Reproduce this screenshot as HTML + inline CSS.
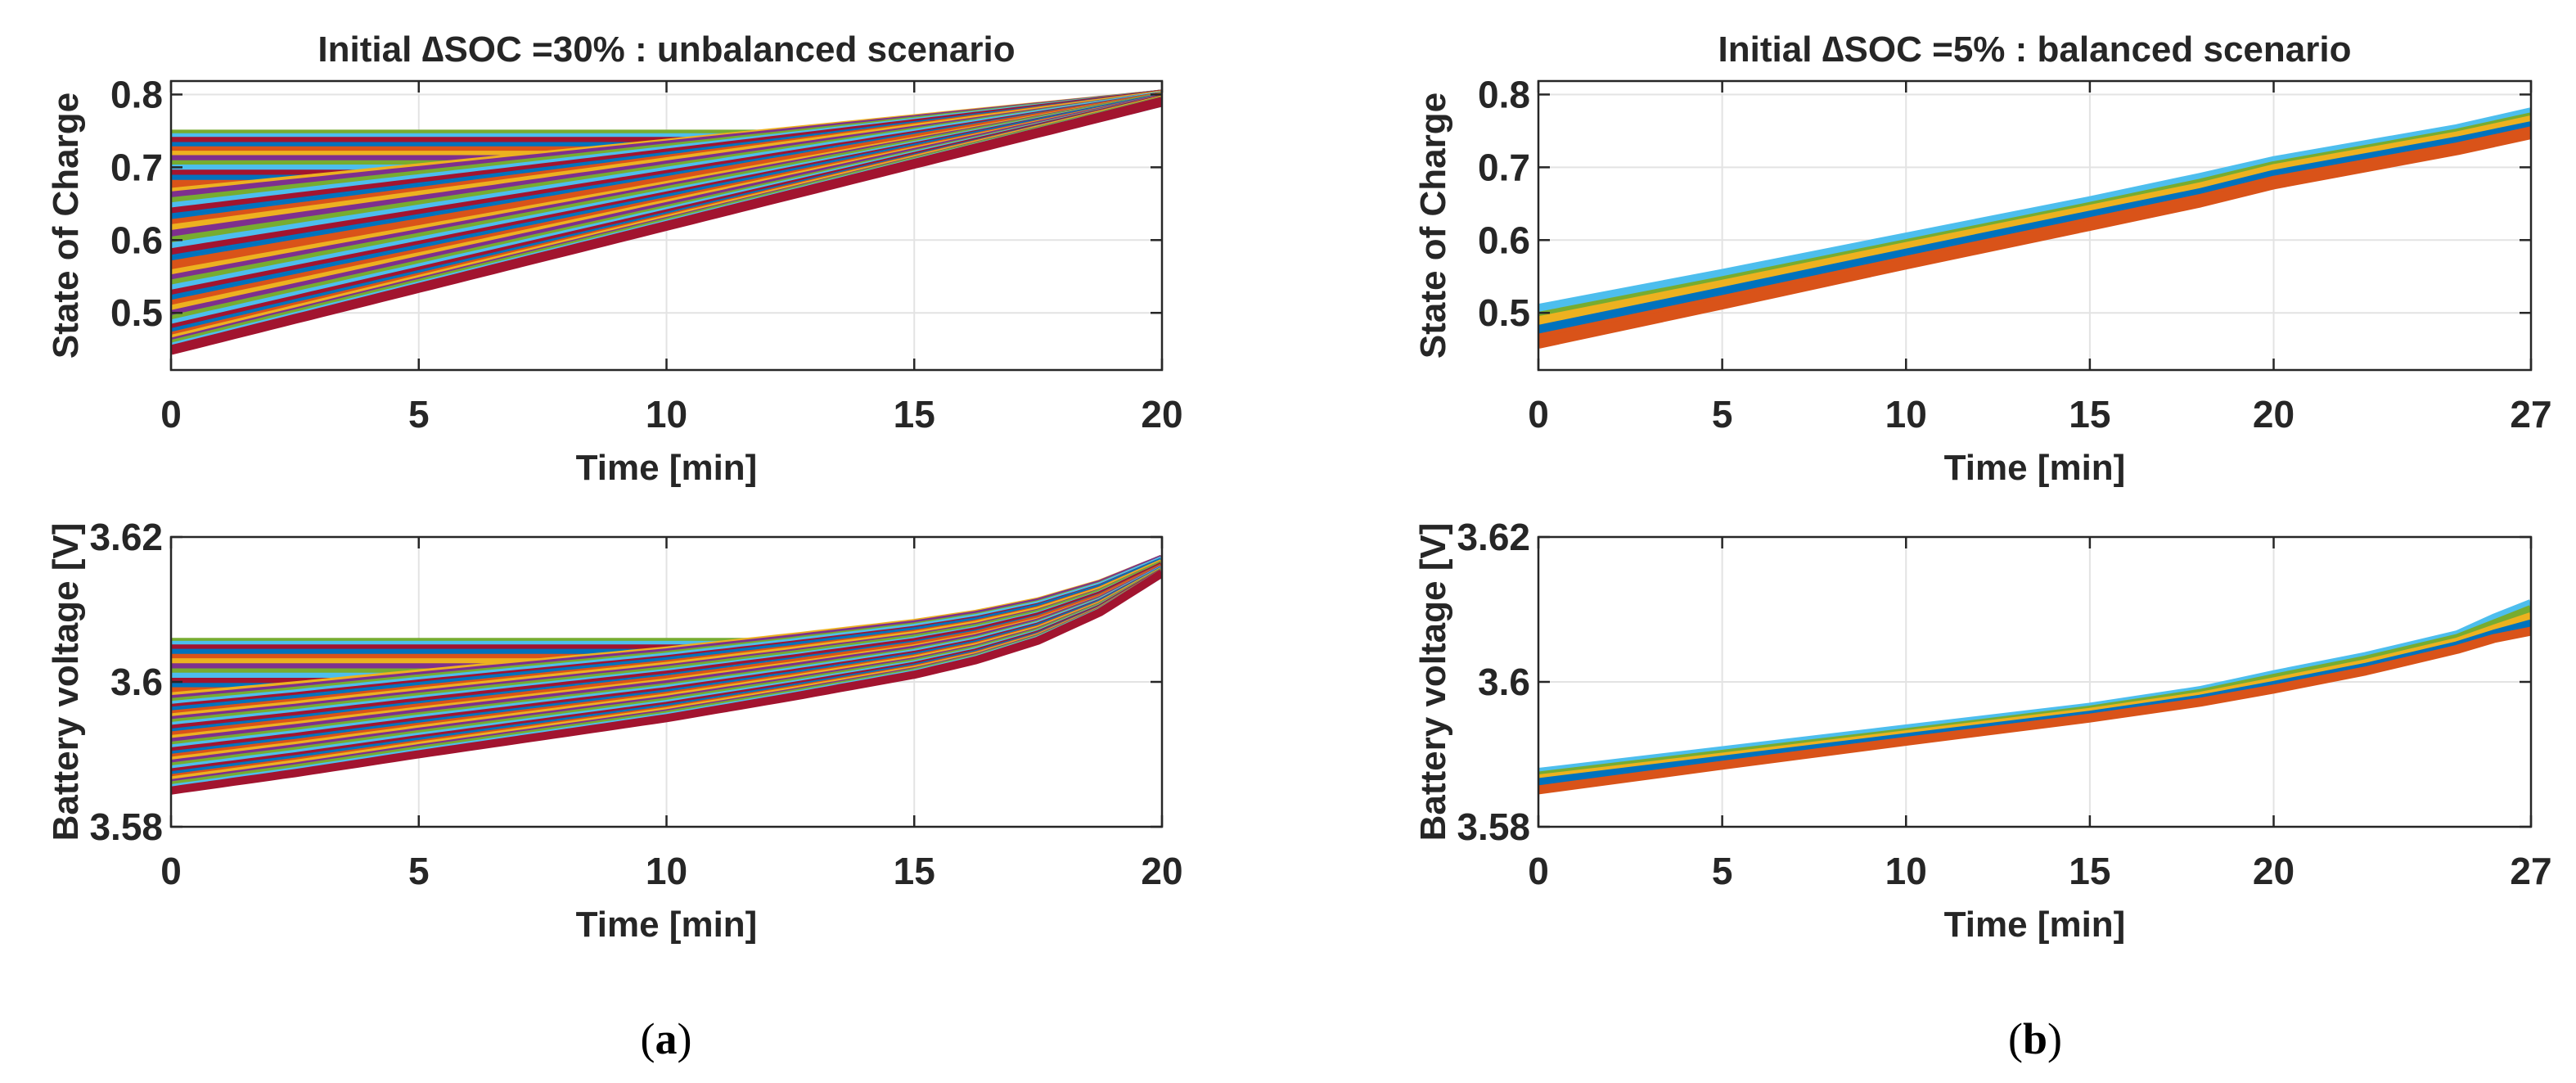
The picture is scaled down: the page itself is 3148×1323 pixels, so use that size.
<!DOCTYPE html>
<html><head><meta charset="utf-8"><style>
html,body{margin:0;padding:0;background:#fff;}
svg{display:block;}
text{font-family:"Liberation Sans",Arial,sans-serif;fill:#262626;}
</style></head><body>
<svg id="fig" width="3148" height="1323" viewBox="0 0 3148 1323">
<text x="814" y="1287" text-anchor="middle" style="font-family:'Liberation Serif',serif;font-size:54px;fill:#000">(<tspan font-weight="bold">a</tspan>)</text>
<text x="2487" y="1287" text-anchor="middle" style="font-family:'Liberation Serif',serif;font-size:54px;fill:#000">(<tspan font-weight="bold">b</tspan>)</text>
</svg>
<script>
const colors = ["#0072BD","#D95319","#EDB120","#7E2F8E","#77AC30","#4DBEEE","#A2142F"];
// Panel (a) SOC data
const aSocInit = [0.745,0.74,0.735,0.728,0.722,0.716,0.71,0.703,0.697,0.69,0.683,0.676,
 0.665,0.66,0.652,0.645,0.638,0.63,0.622,0.615,0.607,0.598,0.59,0.582,0.573,0.565,0.553,0.546,0.539,0.532,0.525,0.518,0.511,0.504,0.497,0.49,0.484,0.478,0.472,0.467,0.463,0.459,0.456,0.452,0.449];
const aSocEnd = [0.8,0.8,0.8,0.8,0.8,0.8,0.8,0.8,0.8,0.8,0.8,0.8,
 0.8,0.8,0.8,0.8,0.8,0.799,0.799,0.799,0.798,0.798,0.798,0.797,0.797,0.797,0.796,0.796,0.796,0.795,0.795,0.795,0.794,0.794,0.794,0.793,0.793,0.793,0.792,0.792,0.792,0.791,0.791,0.79,0.79];
const aFlatCount = 12;
const aEnvSoc = [0.64, 0.80];
// Panel (a) voltage data
const aVInit = [3.6055,3.6051,3.6046,3.6040,3.6033,3.6027,3.6020,3.6013,3.6007,3.6000,3.5993,3.5987,
 3.5980,3.5976,3.5972,3.5968,3.5964,3.5960,3.5955,3.5951,3.5947,3.5943,3.5939,3.5935,3.5930,3.5926,3.5921,3.5917,3.5912,3.5908,3.5904,3.5899,3.5895,3.5891,3.5887,3.5883,3.5879,3.5875,3.5871,3.5867,3.5864,3.5860,3.5857,3.5853,3.5850];
const aVEnd = [3.617,3.617,3.617,3.617,3.617,3.617,3.617,3.617,3.617,3.617,3.617,3.617,
 3.617,3.617,3.6168,3.6168,3.6166,3.6166,3.6164,3.6164,3.6162,3.6162,3.616,3.616,3.6158,3.6158,3.6156,3.6156,3.6155,3.6155,3.6154,3.6154,3.6153,3.6153,3.6152,3.6152,3.6151,3.6151,3.615,3.615,3.615,3.615,3.615,3.615,3.615];
const aEnvV = [3.5965, 3.617];
const aShapeT = [0,2.5,5,7.5,10,12.5,15,16.25,17.5,18.75,20];
const aShapeG = [0,0.08,0.167,0.25,0.333,0.43,0.533,0.6,0.69,0.82,1];
// Panel (b)
const bT = [0,5,10,15,18,20,25,27];
const bSoc = [
 [0.505,0.553,0.603,0.653,0.685,0.708,0.752,0.775],
 [0.500,0.548,0.599,0.649,0.681,0.704,0.749,0.772],
 [0.494,0.543,0.594,0.645,0.677,0.701,0.746,0.768],
 [0.488,0.538,0.590,0.641,0.672,0.697,0.742,0.764],
 [0.482,0.533,0.585,0.637,0.668,0.693,0.739,0.760],
 [0.476,0.528,0.581,0.633,0.664,0.689,0.735,0.756],
 [0.470,0.522,0.576,0.628,0.660,0.685,0.731,0.752],
 [0.464,0.517,0.571,0.624,0.656,0.681,0.727,0.749],
 [0.458,0.512,0.567,0.620,0.652,0.677,0.724,0.746]];
const bSocColors = ["#4DBEEE","#4DBEEE","#77AC30","#EDB120","#EDB120","#0072BD","#0072BD","#D95319","#D95319"];
const bVT = [0,5,10,15,18,20,22.5,25,26,27];
const bV = [
 [3.5875,3.5905,3.5935,3.5965,3.5988,3.6010,3.6035,3.6065,3.6088,3.6108],
 [3.5870,3.5900,3.5930,3.5961,3.5984,3.6005,3.6030,3.6060,3.6080,3.6100],
 [3.5866,3.5896,3.5927,3.5958,3.5980,3.6000,3.6025,3.6055,3.6073,3.6090],
 [3.5861,3.5892,3.5923,3.5954,3.5976,3.5995,3.6020,3.6050,3.6066,3.6080],
 [3.5856,3.5889,3.5920,3.5952,3.5974,3.5992,3.6017,3.6047,3.6062,3.6074],
 [3.5851,3.5885,3.5918,3.5950,3.5972,3.5990,3.6015,3.6045,3.6060,3.6070]];
const bVColors = ["#4DBEEE","#77AC30","#EDB120","#0072BD","#0072BD","#D95319"];

const NS="http://www.w3.org/2000/svg";
const svg=document.getElementById('fig');
function el(tag,attrs,parent){const e=document.createElementNS(NS,tag);for(const k in attrs)e.setAttribute(k,attrs[k]);(parent||svg).appendChild(e);return e;}

function makeAxes(o){
  const g=el('g',{});
  
  
  const sx=v=>o.x0+(v-o.xmin)/(o.xmax-o.xmin)*(o.x1-o.x0);
  const sy=v=>o.y1-(v-o.ymin)/(o.ymax-o.ymin)*(o.y1-o.y0);
  o.xticks.forEach(t=>{const l=el('line',{x1:sx(t),x2:sx(t),y1:o.y0,y2:o.y1,stroke:'#e3e3e3','stroke-width':2},g);
    
    });
  o.yticks.forEach(t=>{const l=el('line',{x1:o.x0,x2:o.x1,y1:sy(t),y2:sy(t),stroke:'#e3e3e3','stroke-width':2},g);
    
    });
  const clip=el('clipPath',{id:o.name+'-clip'},g);
  el('rect',{x:o.x0,y:o.y0,width:o.x1-o.x0,height:o.y1-o.y0},clip);
  const series=el('g',{'clip-path':'url(#'+o.name+'-clip)'},g);
  
  
  o.draw(series,sx,sy);
  const frame=el('rect',{x:o.x0,y:o.y0,width:o.x1-o.x0,height:o.y1-o.y0,fill:'none',stroke:'#262626','stroke-width':2.5},g);
  
  
  o.xticks.forEach((t,i)=>{
    el('line',{x1:sx(t),x2:sx(t),y1:o.y1,y2:o.y1-14,stroke:'#262626','stroke-width':2.5},g);
    el('line',{x1:sx(t),x2:sx(t),y1:o.y0,y2:o.y0+14,stroke:'#262626','stroke-width':2.5},g);
    const tx=el('text',{x:sx(t),y:o.y1+70,'text-anchor':'middle','font-size':46,'font-weight':'bold'},g);
    tx.textContent=o.xlabels[i];
    
    
  });
  o.yticks.forEach((t,i)=>{
    el('line',{x1:o.x0,x2:o.x0+14,y1:sy(t),y2:sy(t),stroke:'#262626','stroke-width':2.5},g);
    el('line',{x1:o.x1,x2:o.x1-14,y1:sy(t),y2:sy(t),stroke:'#262626','stroke-width':2.5},g);
    const tx=el('text',{x:o.x0-10,y:sy(t)+16,'text-anchor':'end','font-size':46,'font-weight':'bold'},g);
    tx.textContent=o.ylabels[i];
    
    
  });
  const xl=el('text',{x:(o.x0+o.x1)/2,y:o.y1+134,'text-anchor':'middle','font-size':44,'font-weight':'bold'},g);
  xl.textContent='Time [min]';
  
  
  const cy=(o.y0+o.y1)/2, cx=o.x0-130;
  const yl=el('text',{x:cx,y:cy,'text-anchor':'middle','font-size':44,'font-weight':'bold',transform:`rotate(-90 ${cx} ${cy}) translate(0 16)`},g);
  yl.textContent=o.ytitle;
  
  
  if(o.title){
    const tt=el('text',{x:(o.x0+o.x1)/2,y:o.y0-24,'text-anchor':'middle','font-size':44,'font-weight':'bold',fill:'#000'},g);
    tt.textContent=o.title;
    
    
  }
}
function poly(parent,pts,color,w,name){
  const p=el('polyline',{points:pts.map(p=>p[0].toFixed(1)+','+p[1].toFixed(1)).join(' '),fill:'none',stroke:color,'stroke-width':w,'stroke-linejoin':'round'},parent);
  
  
}
const ts=[];for(let t=0;t<=20;t+=0.25)ts.push(t);
function shapeAt(t){for(let i=1;i<aShapeT.length;i++){if(t<=aShapeT[i]){const f=(t-aShapeT[i-1])/(aShapeT[i]-aShapeT[i-1]);return aShapeG[i-1]+f*(aShapeG[i]-aShapeG[i-1]);}}return 1;}
const colorOffset=4;

makeAxes({name:'soc-unbalanced-chart',x0:209,x1:1420,y0:99,y1:452,xmin:0,xmax:20,ymin:0.4215,ymax:0.8185,
  xticks:[0,5,10,15,20],xlabels:['0','5','10','15','20'],yticks:[0.5,0.6,0.7,0.8],ylabels:['0.5','0.6','0.7','0.8'],
  ytitle:'State of Charge',title:'Initial \u2206SOC =30% : unbalanced scenario',
  draw:(g,sx,sy)=>{
    const env=t=>aEnvSoc[0]+(aEnvSoc[1]-aEnvSoc[0])*t/20;
    aSocInit.forEach((s0,i)=>{
      const pts=ts.map(t=>{const v=i<aFlatCount?Math.max(s0,env(t)):s0+(aSocEnd[i]-s0)*t/20;return [sx(t),sy(v)];});
      poly(g,pts,colors[(i+colorOffset)%7],12,'soc-line-cell-'+(i+1));
    });
  }});
makeAxes({name:'voltage-unbalanced-chart',x0:209,x1:1420,y0:656,y1:1010,xmin:0,xmax:20,ymin:3.58,ymax:3.62,
  xticks:[0,5,10,15,20],xlabels:['0','5','10','15','20'],yticks:[3.58,3.6,3.62],ylabels:['3.58','3.6','3.62'],
  ytitle:'Battery voltage [V]',
  draw:(g,sx,sy)=>{
    const env=t=>aEnvV[0]+(aEnvV[1]-aEnvV[0])*shapeAt(t);
    aVInit.forEach((v0,i)=>{
      const pts=ts.map(t=>{const v=i<aFlatCount?Math.max(v0,env(t)):v0+(aVEnd[i]-v0)*shapeAt(t);return [sx(t),sy(v)];});
      poly(g,pts,colors[(i+colorOffset)%7],10,'voltage-line-cell-'+(i+1));
    });
  }});
makeAxes({name:'soc-balanced-chart',x0:1880,x1:3093,y0:99,y1:452,xmin:0,xmax:27,ymin:0.4215,ymax:0.8185,
  xticks:[0,5,10,15,20,27],xlabels:['0','5','10','15','20','27'],yticks:[0.5,0.6,0.7,0.8],ylabels:['0.5','0.6','0.7','0.8'],
  ytitle:'State of Charge',title:'Initial \u2206SOC =5% : balanced scenario',
  draw:(g,sx,sy)=>{
    bSoc.forEach((row,i)=>{poly(g,row.map((v,j)=>[sx(bT[j]),sy(v)]),bSocColors[i],13,'soc-balanced-line-'+(i+1));});
  }});
makeAxes({name:'voltage-balanced-chart',x0:1880,x1:3093,y0:656,y1:1010,xmin:0,xmax:27,ymin:3.58,ymax:3.62,
  xticks:[0,5,10,15,20,27],xlabels:['0','5','10','15','20','27'],yticks:[3.58,3.6,3.62],ylabels:['3.58','3.6','3.62'],
  ytitle:'Battery voltage [V]',
  draw:(g,sx,sy)=>{
    bV.forEach((row,i)=>{poly(g,row.map((v,j)=>[sx(bVT[j]),sy(v)]),bVColors[i],11,'voltage-balanced-line-'+(i+1));});
  }});
</script>
</body></html>
